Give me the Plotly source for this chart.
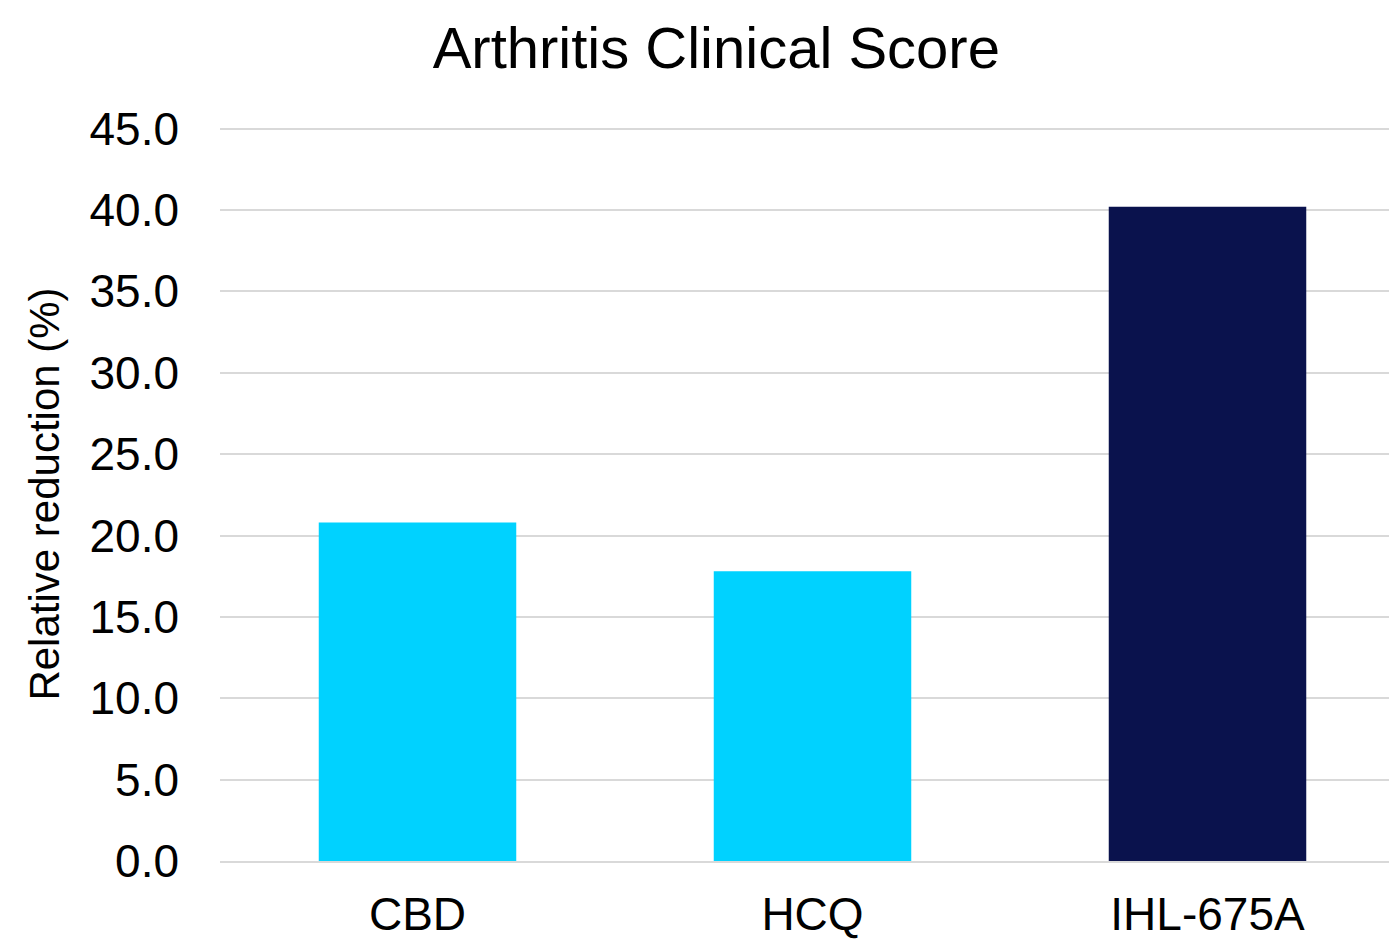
import plotly.graph_objects as go

categories = ["CBD", "HCQ", "IHL-675A"]
values = [20.8, 17.8, 40.2]
colors = ["#00D2FF", "#00D2FF", "#0A124D"]

fig = go.Figure(go.Bar(x=categories, y=values, marker_color=colors, marker_line_width=0))

fig.update_layout(
    width=1397, height=939,
    margin=dict(l=212, r=0, t=119, b=86),
    paper_bgcolor="white", plot_bgcolor="white",
    font=dict(family="Liberation Sans, Arial", color="black", size=46),
    title=dict(text="Arthritis Clinical Score", x=0.507, xanchor="center",
               y=0.958, yanchor="middle", font=dict(size=58)),
    bargap=0.5,
    showlegend=False,
)
fig.update_yaxes(range=[0, 45.1], dtick=5, tickformat=".1f", showgrid=True,
                 gridcolor="#D9D9D9", gridwidth=2, zeroline=False,
                 showline=False, ticks="", ticklen=0, ticklabelstandoff=40,
                 title=dict(text="Relative reduction (%)", font=dict(size=42), standoff=16))
fig.update_xaxes(showline=True, linecolor="#D9D9D9", linewidth=2, ticks="",
                 ticklabelstandoff=12)

fig.write_html("out.html")
